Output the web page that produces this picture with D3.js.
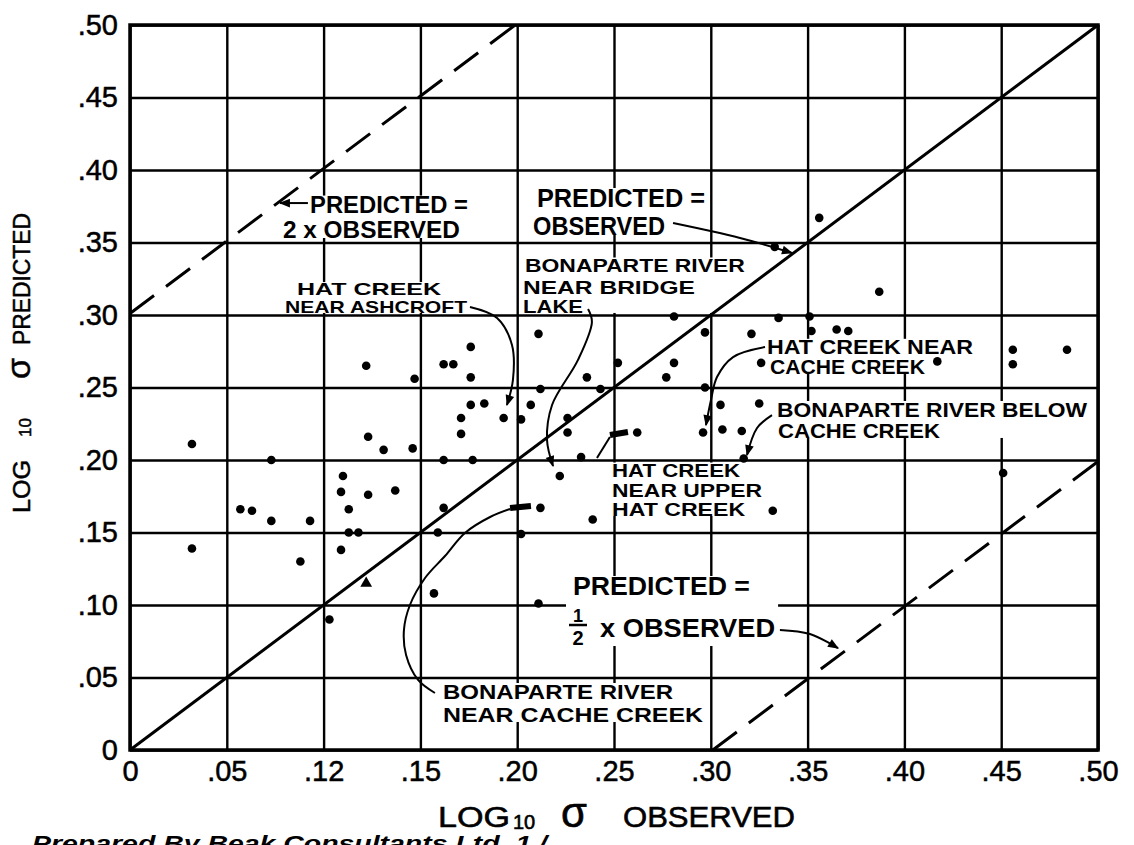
<!DOCTYPE html>
<html>
<head>
<meta charset="utf-8">
<script src="https://cdn.jsdelivr.net/npm/d3@7"></script>
<style>
  body { margin: 0; background: #fff; }
  text { font-family: "Liberation Sans", Arial, sans-serif; fill: #000; }
</style>
</head>
<body>
<svg id="chart" width="1134" height="845"></svg>
<script>
// ---- data ----
const tickValues = [0, 0.05, 0.10, 0.15, 0.20, 0.25, 0.30, 0.35, 0.40, 0.45, 0.50];
const xTickLabels = ["0", ".05", ".12", ".15", ".20", ".25", ".30", ".35", ".40", ".45", ".50"];
const yTickLabels = ["0", ".05", ".10", ".15", ".20", ".25", ".30", ".35", ".40", ".45", ".50"];

// log10 sigma observed / predicted, one pair per station
const observed = [0.032, 0.032, 0.057, 0.063, 0.073, 0.073, 0.088, 0.093, 0.103, 0.109,
  0.110, 0.109, 0.113, 0.113, 0.118, 0.122, 0.123, 0.123, 0.131, 0.137,
  0.146, 0.147, 0.157, 0.159, 0.162, 0.167, 0.162, 0.162, 0.171, 0.171,
  0.176, 0.176, 0.176, 0.177, 0.183, 0.193, 0.202, 0.202, 0.207, 0.211,
  0.212, 0.212, 0.211, 0.226, 0.226, 0.236, 0.243, 0.252, 0.222, 0.233,
  0.239, 0.262, 0.277, 0.281, 0.281, 0.297, 0.297, 0.296, 0.305, 0.306,
  0.316, 0.317, 0.321, 0.325, 0.326, 0.333, 0.335, 0.351, 0.352, 0.356,
  0.365, 0.371, 0.387, 0.417, 0.456, 0.456, 0.484, 0.451, 0.332];
const predicted = [0.211, 0.139, 0.166, 0.165, 0.158, 0.200, 0.130, 0.158, 0.090, 0.138,
  0.189, 0.178, 0.166, 0.150, 0.150, 0.265, 0.216, 0.176, 0.207, 0.179,
  0.208, 0.256, 0.108, 0.150, 0.266, 0.266, 0.200, 0.167, 0.218, 0.229,
  0.278, 0.257, 0.238, 0.200, 0.239, 0.229, 0.228, 0.149, 0.238, 0.287,
  0.249, 0.167, 0.101, 0.229, 0.219, 0.257, 0.249, 0.267, 0.189, 0.202,
  0.159, 0.219, 0.257, 0.267, 0.299, 0.250, 0.288, 0.219, 0.238, 0.221,
  0.220, 0.201, 0.287, 0.239, 0.267, 0.347, 0.298, 0.299, 0.289, 0.367,
  0.290, 0.289, 0.316, 0.268, 0.276, 0.266, 0.276, 0.191, 0.165];
const triangleObs = [0.122];
const trianglePred = [0.115];

// reference lines: predicted = k x observed  ->  offset log10(k)
const ratios = [1, 2, 0.5];

// ---- layout ----
const plotLeft = 130, plotTop = 25, plotRight = 1098, plotBottom = 750;
const svg = d3.select("#chart");

const x = d3.scaleLinear().domain([0, 0.5]).range([plotLeft, plotRight]);
const y = d3.scaleLinear().domain([0, 0.5]).range([plotBottom, plotTop]);

// grid + tick labels through the axes
const gx = svg.append("g")
  .attr("transform", "translate(0," + plotBottom + ")")
  .call(d3.axisBottom(x).tickValues(tickValues).tickSize(-(plotBottom - plotTop)).tickPadding(10)
    .tickFormat((d, i) => xTickLabels[i]));
const gy = svg.append("g")
  .attr("transform", "translate(" + plotLeft + ",0)")
  .call(d3.axisLeft(y).tickValues(tickValues).tickSize(-(plotRight - plotLeft)).tickPadding(12)
    .tickFormat((d, i) => yTickLabels[i]));

[gx, gy].forEach(g => {
  g.select(".domain").remove();
  g.selectAll(".tick line").attr("stroke", "#000").attr("stroke-width", 2.4);
  g.selectAll(".tick text")
    .style("font-family", '"Liberation Sans", Arial, sans-serif')
    .style("font-size", "29px")
    .attr("fill", "#000")
    .attr("stroke", "#000").attr("stroke-width", 0.5);
});

// ---- annotations (positions in data units: text, left, baseline, width) ----
const notes = [
  { size: 23, lines: [["PREDICTED =", 0.093, 0.3703, 0.0816], ["2 x OBSERVED", 0.079, 0.3531, 0.0914]] },
  { size: 25, lines: [["PREDICTED =", 0.2102, 0.3745, 0.0868], ["OBSERVED", 0.2082, 0.3552, 0.0682]] },
  { size: 17, lines: [["HAT  CREEK", 0.0863, 0.3138, 0.0744], ["NEAR  ASHCROFT", 0.0801, 0.3014, 0.094]] },
  { size: 19, lines: [["BONAPARTE  RIVER", 0.204, 0.3297, 0.1136], ["NEAR  BRIDGE", 0.203, 0.3145, 0.0888], ["LAKE", 0.203, 0.3014, 0.031]] },
  { size: 20, lines: [["HAT CREEK NEAR", 0.329, 0.2731, 0.1064], ["CACHE CREEK", 0.3306, 0.2593, 0.08]] },
  { size: 21, lines: [["BONAPARTE  RIVER  BELOW", 0.3342, 0.2297, 0.1601], ["CACHE  CREEK", 0.3347, 0.2152, 0.0837]] },
  { size: 19, lines: [["HAT  CREEK", 0.249, 0.1883, 0.0661], ["NEAR  UPPER", 0.249, 0.1745, 0.0775], ["HAT  CREEK", 0.249, 0.1614, 0.0687]] },
  { size: 21, lines: [["BONAPARTE  RIVER", 0.1617, 0.0352, 0.1188], ["NEAR  CACHE  CREEK", 0.1617, 0.0193, 0.1343]] },
  { size: 25, lines: [["PREDICTED =", 0.2288, 0.1069, 0.0914], ["x  OBSERVED", 0.2428, 0.0779, 0.0904]], frac: [0.2314, 0.0883, 0.0862, 0.0724] }
];

const arrowLeaders = [
  [[0.0919, 0.3772], [0.0775, 0.3772]],
  [[0.2805, 0.3634], [0.3151, 0.3531], [0.3419, 0.3428]],
  [[0.1756, 0.3055], [0.1896, 0.2979], [0.1973, 0.2793], [0.1978, 0.2552], [0.1947, 0.2379]],
  [[0.2366, 0.3041], [0.2386, 0.2952], [0.2314, 0.269], [0.218, 0.2379], [0.2154, 0.2138], [0.2185, 0.1959]],
  [[0.328, 0.2779], [0.3115, 0.271], [0.3032, 0.2572], [0.3001, 0.2414], [0.2975, 0.2241]],
  [[0.3316, 0.231], [0.3239, 0.2221], [0.3187, 0.2034]],
  [[0.3357, 0.0828], [0.3512, 0.08], [0.3657, 0.0703]]
];
const barLeaders = [
  { path: [[0.2412, 0.2014], [0.2479, 0.2159]], bar: [[0.2479, 0.2172], [0.2572, 0.2193]] },
  { path: [[0.1575, 0.0393], [0.1488, 0.0483], [0.1426, 0.0655], [0.1415, 0.0828], [0.1446, 0.1],
           [0.1524, 0.1186], [0.1627, 0.1338], [0.173, 0.1497], [0.186, 0.1607], [0.1963, 0.1662]],
    bar: [[0.1963, 0.1669], [0.2071, 0.1683]] }
];

// white boxes behind labels (they break the grid in the original)
const boxes = svg.append("g");
notes.forEach(n => {
  let x0 = Infinity, x1 = -Infinity, y0 = Infinity, y1 = -Infinity;
  n.lines.forEach(l => {
    const px = x(l[1]), py = y(l[2]), pw = x(l[1] + l[3]) - x(l[1]);
    x0 = Math.min(x0, px - 3); x1 = Math.max(x1, px + pw + 3);
    y0 = Math.min(y0, py - n.size * 0.76); y1 = Math.max(y1, py);
  });
  if (n.frac) {
    x0 = Math.min(x0, x(n.frac[0]) - 12);
    y1 = Math.max(y1, y(n.frac[3]) + 1);
  }
  boxes.append("rect").attr("x", x0).attr("y", y0).attr("width", x1 - x0).attr("height", y1 - y0)
    .attr("fill", "#fff");
});

// reference lines
const refLines = svg.append("g");
ratios.forEach(k => {
  const off = Math.log10(k);
  const xa = Math.max(0, -off), xb = Math.min(0.5, 0.5 - off);
  refLines.append("line")
    .attr("x1", x(xa)).attr("y1", y(xa + off))
    .attr("x2", x(xb)).attr("y2", y(xb + off))
    .attr("stroke", "#000").attr("stroke-width", 3)
    .attr("stroke-dasharray", k === 1 ? null : "30,15");
});

// station points
svg.append("g").selectAll("circle")
  .data(observed.map((o, i) => [o, predicted[i]]))
  .join("circle")
  .attr("cx", d => x(d[0])).attr("cy", d => y(d[1])).attr("r", 4.3)
  .attr("fill", "#000");

svg.append("g").selectAll("path")
  .data(triangleObs.map((o, i) => [o, trianglePred[i]]))
  .join("path")
  .attr("d", d3.symbol(d3.symbolTriangle, 60))
  .attr("transform", d => "translate(" + x(d[0]) + "," + y(d[1]) + ")")
  .attr("fill", "#000");

// leaders
svg.append("defs").append("marker")
  .attr("id", "arrow").attr("viewBox", "0 0 10 10")
  .attr("refX", 9).attr("refY", 5)
  .attr("markerWidth", 13).attr("markerHeight", 11)
  .attr("markerUnits", "userSpaceOnUse").attr("orient", "auto")
  .append("path").attr("d", "M0,1 L10,5 L0,9 Z").attr("fill", "#000");

const leader = d3.line().x(d => x(d[0])).y(d => y(d[1])).curve(d3.curveCatmullRom);
const lg = svg.append("g").attr("fill", "none").attr("stroke", "#000");
arrowLeaders.forEach(p => {
  lg.append("path").attr("d", leader(p)).attr("stroke-width", 2).attr("marker-end", "url(#arrow)");
});
barLeaders.forEach(b => {
  lg.append("path").attr("d", leader(b.path)).attr("stroke-width", 2);
  lg.append("path").attr("d", leader(b.bar)).attr("stroke-width", 6);
});

// label text: one text element per label, a tspan per line
const tg = svg.append("g");
notes.forEach(n => {
  const t = tg.append("text")
    .style("font-size", n.size + "px").style("font-weight", "bold");
  n.lines.forEach(l => {
    t.append("tspan")
      .attr("x", x(l[1])).attr("y", y(l[2]))
      .attr("textLength", x(l[1] + l[3]) - x(l[1]))
      .attr("lengthAdjust", "spacingAndGlyphs")
      .text(l[0]);
  });
  if (n.frac) {
    const fx = x(n.frac[0]);
    const f = tg.append("text").attr("text-anchor", "middle").style("font-weight", "bold");
    f.append("tspan").attr("x", fx).attr("y", y(n.frac[1])).style("font-size", "18px").text("1");
    f.append("tspan").attr("x", fx).attr("y", y(n.frac[3])).style("font-size", "20px").text("2");
    tg.append("line").attr("x1", fx - 9).attr("x2", fx + 9)
      .attr("y1", y(n.frac[2])).attr("y2", y(n.frac[2]))
      .attr("stroke", "#000").attr("stroke-width", 2.5);
  }
});

// frame
svg.append("rect")
  .attr("x", plotLeft).attr("y", plotTop).attr("width", plotRight - plotLeft).attr("height", plotBottom - plotTop)
  .attr("fill", "none").attr("stroke", "#000").attr("stroke-width", 3.5);

// axis titles
const xt = svg.append("text").attr("y", 827).style("font-size", "30px")
  .attr("stroke", "#000").attr("stroke-width", 0.6);
xt.append("tspan").attr("x", 438).attr("textLength", 72).attr("lengthAdjust", "spacingAndGlyphs").text("LOG");
xt.append("tspan").attr("x", 513).attr("dy", 2).style("font-size", "20px").text("10");
xt.append("tspan").attr("x", 561).attr("dy", -2).style("font-size", "42px").text("σ");
xt.append("tspan").attr("x", 623).attr("textLength", 172).attr("lengthAdjust", "spacingAndGlyphs").text("OBSERVED");

const yt = svg.append("text").attr("transform", "translate(30,513) rotate(-90)").style("font-size", "24px")
  .attr("stroke", "#000").attr("stroke-width", 0.5);
yt.append("tspan").attr("x", 0).attr("textLength", 53).attr("lengthAdjust", "spacingAndGlyphs").text("LOG");
yt.append("tspan").attr("x", 76).attr("dy", 1).style("font-size", "17px").text("10");
yt.append("tspan").attr("x", 134).attr("dy", -1).style("font-size", "34px").text("σ");
yt.append("tspan").attr("x", 168).attr("textLength", 132).attr("lengthAdjust", "spacingAndGlyphs").text("PREDICTED");

// source line, cut by the page edge as in the original
svg.append("text").attr("x", 32).attr("y", 851)
  .attr("textLength", 515).attr("lengthAdjust", "spacingAndGlyphs")
  .style("font-size", "22px").style("font-weight", "bold").style("font-style", "italic")
  .text("Prepared By Beak Consultants Ltd. 1 /");
</script>
</body>
</html>
